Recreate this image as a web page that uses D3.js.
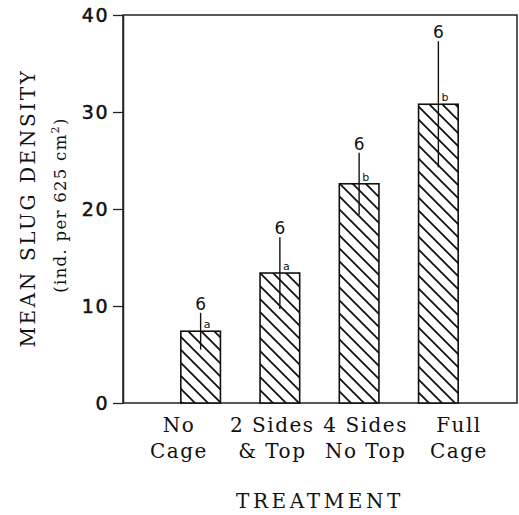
<!DOCTYPE html>
<html>
<head>
<meta charset="utf-8">
<script src="https://cdn.jsdelivr.net/npm/d3@7"></script>
<style>
  html, body { margin: 0; padding: 0; background: #fff; }
  svg { display: block; }
</style>
</head>
<body>
<svg id="chart" width="519" height="515"></svg>
<script>
// ---- data ----
const categories = ["No Cage", "2 Sides & Top", "4 Sides No Top", "Full Cage"];
const labelLine1 = ["No", "2 Sides", "4 Sides", "Full"];
const labelLine2 = ["Cage", "& Top", "No Top", "Cage"];
const meanDensity = [7.4, 13.4, 22.6, 30.8];
const stdError = [1.9, 3.7, 3.2, 6.5];
const sampleSize = [6, 6, 6, 6];
const groupLetters = ["a", "a", "b", "b"];
const yTicks = [0, 10, 20, 30, 40];

// ---- layout ----
const svg = d3.select("#chart");
const plotL = 123, plotR = 517, plotT = 15, plotB = 403;

const y = d3.scaleLinear().domain([0, 40]).range([plotB, plotT]);
const x = d3.scaleBand().domain(categories).range([161, 478]).paddingInner(0.5).paddingOuter(0.25);
const xLab = d3.scalePoint().domain(categories).range([179, 459]);

// hatch pattern
const defs = svg.append("defs");
const pat = defs.append("pattern")
  .attr("id", "hatch").attr("patternUnits", "userSpaceOnUse")
  .attr("width", 13).attr("height", 13);
pat.append("rect").attr("width", 13).attr("height", 13).attr("fill", "#fff");
pat.append("path")
  .attr("d", "M-1,-1 L14,14 M-4,9 L4,17 M9,-4 L17,4")
  .attr("stroke", "#111").attr("stroke-width", 1.8);

// frame
svg.append("path")
  .attr("d", `M${plotL},${plotT} H${plotR} V${plotB} H${plotL} Z`)
  .attr("fill", "none").attr("stroke", "#222").attr("stroke-width", 1.5);

// y axis
const yAxis = svg.append("g").attr("transform", `translate(${plotL},0)`)
  .call(d3.axisLeft(y).tickValues(yTicks).tickSize(10).tickSizeOuter(0).tickPadding(4));
yAxis.select(".domain").attr("stroke", "#222").attr("stroke-width", 1.5);
yAxis.selectAll(".tick line").attr("stroke", "#222").attr("stroke-width", 1.3);
yAxis.selectAll(".tick text")
  .attr("font-family", "DejaVu Sans, sans-serif").attr("font-size", 19)
  .attr("letter-spacing", 1.5).attr("fill", "#111")
  .attr("stroke", "#111").attr("stroke-width", 0.5)
  .attr("dy", "0.36em");

// bars
svg.append("g").selectAll("rect").data(categories).join("rect")
  .attr("x", d => x(d))
  .attr("y", (d, i) => y(meanDensity[i]))
  .attr("width", x.bandwidth())
  .attr("height", (d, i) => y(0) - y(meanDensity[i]))
  .attr("fill", "url(#hatch)")
  .attr("stroke", "#111").attr("stroke-width", 1.6);

// error bars
svg.append("g").selectAll("line").data(categories).join("line")
  .attr("x1", d => x(d) + x.bandwidth() / 2)
  .attr("x2", d => x(d) + x.bandwidth() / 2)
  .attr("y1", (d, i) => y(meanDensity[i] + stdError[i]))
  .attr("y2", (d, i) => y(meanDensity[i] - stdError[i]))
  .attr("stroke", "#111").attr("stroke-width", 1.4);

// n labels
svg.append("g").selectAll("text").data(categories).join("text")
  .attr("x", d => x(d) + x.bandwidth() / 2)
  .attr("y", (d, i) => y(meanDensity[i] + stdError[i]) - 3)
  .attr("text-anchor", "middle")
  .attr("font-family", "DejaVu Sans, sans-serif").attr("font-size", 17)
  .attr("fill", "#111")
  .text((d, i) => sampleSize[i]);

// group letters
svg.append("g").selectAll("text").data(categories).join("text")
  .attr("x", d => x(d) + x.bandwidth() / 2 + 3)
  .attr("y", (d, i) => y(meanDensity[i]) - 3)
  .attr("font-family", "DejaVu Sans, sans-serif").attr("font-size", 11)
  .attr("fill", "#111")
  .text((d, i) => groupLetters[i]);

// x labels
const xl = svg.append("g").selectAll("text").data(categories).join("text")
  .attr("text-anchor", "middle")
  .attr("font-family", "DejaVu Serif, serif").attr("font-size", 20)
  .attr("letter-spacing", 1.5).attr("fill", "#111");
xl.append("tspan").attr("x", d => xLab(d)).attr("y", 432).text((d, i) => labelLine1[i]);
xl.append("tspan").attr("x", d => xLab(d)).attr("y", 458).text((d, i) => labelLine2[i]);

// axis titles
svg.append("text")
  .attr("x", 320).attr("y", 508).attr("text-anchor", "middle")
  .attr("font-family", "DejaVu Serif, serif").attr("font-size", 20)
  .attr("letter-spacing", 3.6).attr("fill", "#111")
  .text("TREATMENT");

svg.append("text")
  .attr("transform", "translate(35,208) rotate(-90)")
  .attr("text-anchor", "middle")
  .attr("font-family", "DejaVu Serif, serif").attr("font-size", 20)
  .attr("letter-spacing", 2.6).attr("fill", "#111")
  .text("MEAN SLUG DENSITY");

const sub = svg.append("text")
  .attr("transform", "translate(66,205) rotate(-90)")
  .attr("text-anchor", "middle")
  .attr("font-family", "DejaVu Serif, serif").attr("font-size", 16.5)
  .attr("letter-spacing", 1.3).attr("fill", "#111");
sub.append("tspan").text("(ind. per 625 cm");
sub.append("tspan").attr("font-size", 11).attr("dy", "-0.6em").text("2");
sub.append("tspan").attr("dy", "0.4em").text(")");
</script>
</body>
</html>
